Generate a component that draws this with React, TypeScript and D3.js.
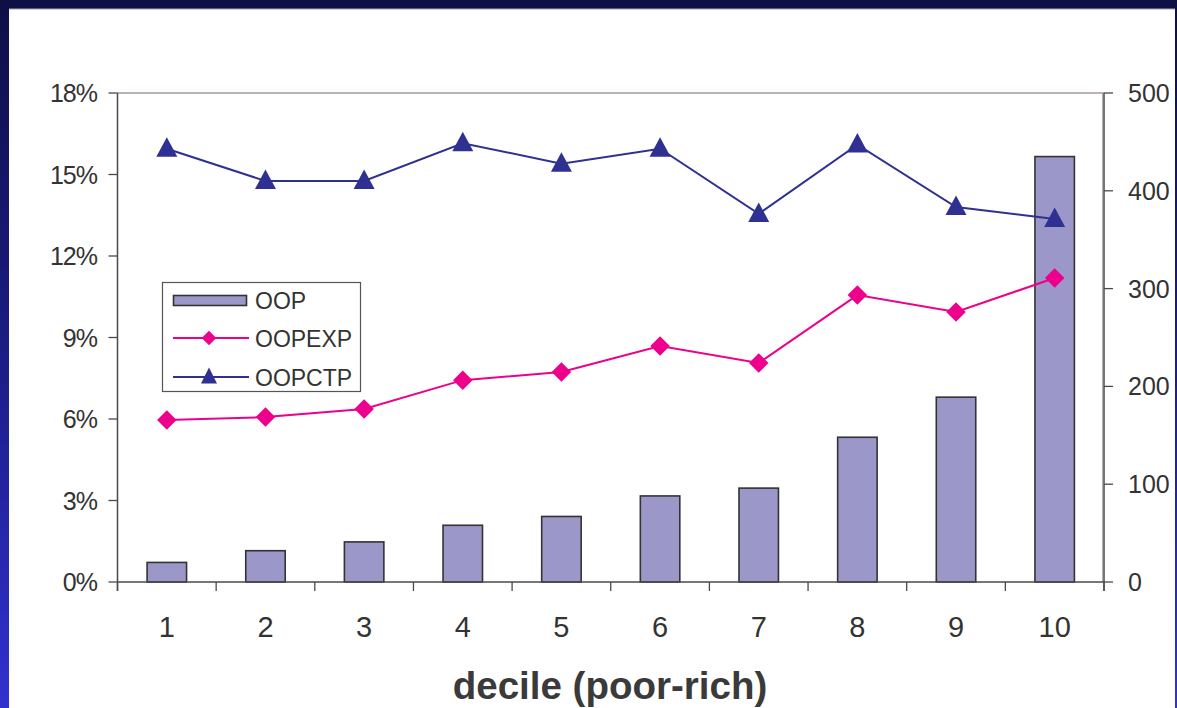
import React from "react";
import * as d3 from "d3";

// Out-of-pocket health spending by income decile
const deciles = ["1", "2", "3", "4", "5", "6", "7", "8", "9", "10"];
const oopValues = [20, 32, 41, 58, 67, 88, 96, 148, 189, 435];
const oopexpValues = [5.96, 6.07, 6.37, 7.43, 7.73, 8.69, 8.06, 10.56, 9.94, 11.19];
const oopctpValues = [15.95, 14.76, 14.76, 16.15, 15.4, 15.95, 13.55, 16.1, 13.8, 13.36];
const leftTicks = [0, 3, 6, 9, 12, 15, 18];
const rightTicks = [0, 100, 200, 300, 400, 500];
const legendItems = ["OOP", "OOPEXP", "OOPCTP"];

const W = 1177;
const H = 708;
const left = 117.5;
const right = 1104;
const top = 93;
const bottom = 582;

const BAR_FILL = "#9b97c9";
const BAR_STROKE = "#333333";
const PINK = "#ec008c";
const NAVY = "#2e3192";
const AXIS = "#4a4a4a";
const FONT = "'Liberation Sans', Arial, Helvetica, sans-serif";

// Triangle marker: apex above the data point, base slightly below it
const trianglePath = (w: number, up: number, down: number) =>
  `M0,${-up}L${w / 2},${down}L${-w / 2},${down}Z`;

export default function App() {
  const x = d3.scaleBand<string>().domain(deciles).range([left, right]).padding(0);
  const yPct = d3.scaleLinear().domain([0, 18]).range([bottom, top]);
  const yRight = d3.scaleLinear().domain([0, 500]).range([bottom, top]);
  const bw = x.bandwidth();
  const cx = (d: string) => (x(d) as number) + bw / 2;

  const lineGen = d3
    .line<[number, number]>()
    .x((p) => p[0])
    .y((p) => p[1]);

  const expPts: [number, number][] = deciles.map((d, i) => [cx(d), yPct(oopexpValues[i])]);
  const ctpPts: [number, number][] = deciles.map((d, i) => [cx(d), yPct(oopctpValues[i])]);

  const diamond = d3.symbol().type(d3.symbolSquare).size(190)() as string;
  const legendDiamond = d3.symbol().type(d3.symbolSquare).size(105)() as string;

  const boundaries = deciles.map((d) => x(d) as number).concat([right]);

  return (
    <svg
      width={W}
      height={H}
      style={{ position: "absolute", left: 0, top: 0, display: "block" }}
      fontFamily={FONT}
    >
      <defs>
        <linearGradient id="frameBg" x1="0" y1="0" x2="0" y2="1">
          <stop offset="0" stopColor="#0e0f45" />
          <stop offset="0.5" stopColor="#1c1c85" />
          <stop offset="1" stopColor="#3131d0" />
        </linearGradient>
      </defs>
      <rect x={0} y={0} width={W} height={H} fill="url(#frameBg)" />
      <rect x={9} y={9} width={1166} height={H - 9} fill="#ffffff" />
      <line x1={9} x2={1175} y1={9} y2={9} stroke="#a8a8a8" strokeWidth={1.2} />

      {/* plot frame */}
      <line x1={left} x2={right} y1={top} y2={top} stroke="#a59a9a" strokeWidth={1.5} />

      {/* bars: OOP (right axis) */}
      {deciles.map((d, i) => {
        const w = bw * 0.4;
        const yTop = yRight(oopValues[i]);
        return (
          <rect
            key={"bar" + d}
            x={cx(d) - w / 2}
            y={yTop}
            width={w}
            height={bottom - yTop}
            fill={BAR_FILL}
            stroke={BAR_STROKE}
            strokeWidth={1.6}
          />
        );
      })}

      {/* axes */}
      <line x1={left} x2={left} y1={top} y2={bottom + 9} stroke={AXIS} strokeWidth={1.5} />
      <line x1={right - 1.5} x2={right - 1.5} y1={top} y2={bottom} stroke="#b0b0b0" strokeWidth={1} />
      <line x1={right} x2={right} y1={top} y2={bottom + 9} stroke={AXIS} strokeWidth={1.5} />
      <line x1={left} x2={right} y1={bottom} y2={bottom} stroke={AXIS} strokeWidth={1.5} />

      {leftTicks.map((t) => (
        <g key={"lt" + t}>
          <line x1={left - 9} x2={left} y1={yPct(t)} y2={yPct(t)} stroke={AXIS} strokeWidth={1.3} />
          <text
            x={97}
            y={yPct(t)}
            dy="0.36em"
            textAnchor="end"
            fontSize={25}
            fill="#333"
            letterSpacing={-1}
          >
            {t}%
          </text>
        </g>
      ))}
      {rightTicks.map((t) => (
        <g key={"rt" + t}>
          <line x1={right} x2={right + 9} y1={yRight(t)} y2={yRight(t)} stroke={AXIS} strokeWidth={1.3} />
          <text x={1128} y={yRight(t)} dy="0.36em" textAnchor="start" fontSize={25} fill="#333">
            {t}
          </text>
        </g>
      ))}
      {boundaries.map((b, i) => (
        <line key={"bt" + i} x1={b} x2={b} y1={bottom} y2={bottom + 9} stroke={AXIS} strokeWidth={1.3} />
      ))}
      {deciles.map((d) => (
        <text key={"xl" + d} x={cx(d)} y={637} textAnchor="middle" fontSize={29} fill="#333">
          {d}
        </text>
      ))}
      <text
        x={610}
        y={699}
        textAnchor="middle"
        fontSize={38.5}
        fontWeight="bold"
        fill="#3a3a3a"
      >
        decile (poor-rich)
      </text>

      {/* OOPEXP line */}
      <path d={lineGen(expPts) as string} fill="none" stroke={PINK} strokeWidth={2} />
      {expPts.map((p, i) => (
        <path
          key={"dm" + i}
          d={diamond}
          transform={`translate(${p[0]},${p[1]}) rotate(45)`}
          fill={PINK}
        />
      ))}

      {/* OOPCTP line */}
      <path d={lineGen(ctpPts) as string} fill="none" stroke={NAVY} strokeWidth={2} />
      {ctpPts.map((p, i) => (
        <path key={"tr" + i} d={trianglePath(21, 11.5, 8)} transform={`translate(${p[0]},${p[1]})`} fill={NAVY} />
      ))}

      {/* legend */}
      <g>
        <rect x={162.5} y={282.5} width={198} height={109} fill="#ffffff" stroke="#555" strokeWidth={1.2} />
        <rect x={173.5} y={295.5} width={73} height={10} fill={BAR_FILL} stroke={BAR_STROKE} strokeWidth={1.6} />
        <line x1={173} x2={249} y1={338} y2={338} stroke={PINK} strokeWidth={2} />
        <path d={legendDiamond} transform="translate(209,338) rotate(45)" fill={PINK} />
        <line x1={173} x2={249} y1={377} y2={377} stroke={NAVY} strokeWidth={2} />
        <path d={trianglePath(16, 9.5, 6.5)} transform="translate(209,377)" fill={NAVY} />
        {legendItems.map((label, i) => (
          <text key={"lg" + label} x={255} y={308.5 + i * 38.5} fontSize={23} fill="#333">
            {label}
          </text>
        ))}
      </g>
    </svg>
  );
}
